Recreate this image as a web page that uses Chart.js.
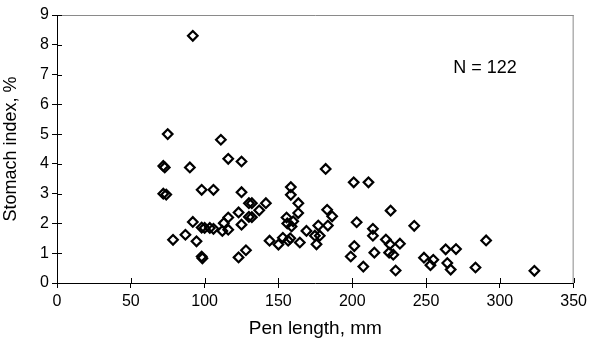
<!DOCTYPE html>
<html>
<head>
  <meta charset="UTF-8">
  <script src="https://cdn.jsdelivr.net/npm/chart.js@4.4.1/dist/chart.umd.min.js"></script>
  <style>
    html, body { margin: 0; padding: 0; background: #fff; }
    #wrap { width: 591px; height: 351px; }
  </style>
</head>
<body>
<div id="wrap"><canvas id="myChart"></canvas></div>
<script>
  // pen length (mm) and stomach index (%)
  const penLength = [
    92, 75, 111, 72, 73, 90, 116, 125, 72, 74, 98, 106, 125, 130, 123, 116, 92, 130,
    98, 100, 103.5, 106, 113, 116, 112, 125, 78.6, 87, 94.5, 98, 98.5, 123, 128,
    132, 141.5, 137, 132, 144, 150, 153, 156.6, 158, 164.5, 158.4, 158.4, 163.5, 163.4,
    155.5, 156, 160, 158.9, 169, 174.7, 178, 175.8, 177, 183, 186.4, 183.5, 182,
    201, 211, 203, 214, 214, 201.4, 199, 207.5, 215, 226, 222.8, 225.5, 232.3, 225,
    227.8, 229.4, 242, 248.6, 254.9, 253, 263.3, 270.3, 264.4, 266.7, 283.5, 290.7, 323.4
  ];
  const stomachIndex = [
    8.3, 5.0, 4.81, 3.93, 3.88, 3.88, 4.17, 4.08, 3.0, 2.97, 3.13, 3.13, 3.05, 2.68, 2.37, 2.2, 2.05, 2.22,
    1.86, 1.85, 1.85, 1.82, 2.01, 1.79, 1.75, 1.96, 1.45, 1.62, 1.4, 0.89, 0.83, 0.86, 1.1,
    2.68, 2.68, 2.44, 2.21, 1.42, 1.29, 1.52, 1.42, 1.5, 1.36, 3.22, 2.96, 2.68, 2.35,
    2.2, 2.0, 2.07, 1.9, 1.75, 1.59, 1.59, 1.3, 1.93, 2.46, 2.24, 1.93, 3.83,
    3.38, 3.38, 2.04, 1.82, 1.59, 1.24, 0.89, 0.55, 1.02, 2.43, 1.46, 1.3, 1.32, 1.02,
    0.95, 0.42, 1.92, 0.85, 0.78, 0.6, 1.13, 1.14, 0.67, 0.45, 0.52, 1.43, 0.41
  ];
  const xTicks = [0, 50, 100, 150, 200, 250, 300, 350];
  const yTicks = [0, 1, 2, 3, 4, 5, 6, 7, 8, 9];
  const noteText = 'N = 122';
  const notePos = [290, 7.22];

  const points = penLength.map(function(x, i) { return { x: x, y: stomachIndex[i] }; });

  // inner half of the crossing tick marks, plot frame and the N label
  const extras = {
    id: 'extras',
    afterDraw: function(chart) {
      const ctx = chart.ctx;
      const a = chart.chartArea;
      const sx = chart.scales.x, sy = chart.scales.y;
      ctx.save();
      ctx.strokeStyle = '#8a8a8a';
      ctx.lineWidth = 1;
      ctx.beginPath();
      ctx.moveTo(a.left, a.top + 0.5);
      ctx.lineTo(a.right, a.top + 0.5);
      ctx.moveTo(a.right - 0.5, a.top);
      ctx.lineTo(a.right - 0.5, a.bottom);
      ctx.stroke();
      ctx.strokeStyle = '#000';
      ctx.beginPath();
      xTicks.forEach(function(v) {
        const px = Math.round(sx.getPixelForValue(v)) + 0.5;
        ctx.moveTo(px, a.bottom);
        ctx.lineTo(px, a.bottom - 5);
      });
      yTicks.forEach(function(v) {
        const py = Math.round(sy.getPixelForValue(v)) + 0.5;
        ctx.moveTo(a.left, py);
        ctx.lineTo(a.left + 5, py);
      });
      ctx.stroke();
      ctx.fillStyle = '#000';
      ctx.font = '18px "Liberation Sans", Arial, sans-serif';
      ctx.textAlign = 'center';
      ctx.textBaseline = 'middle';
      ctx.fillText(noteText, sx.getPixelForValue(notePos[0]), sy.getPixelForValue(notePos[1]));
      ctx.restore();
    }
  };

  const ctx = document.getElementById('myChart').getContext('2d');
  const chart = new Chart(ctx, {
    type: 'scatter',
    data: {
      datasets: [{
        label: 'Stomach index',
        data: points,
        pointStyle: 'rectRot',
        pointRadius: 4.8,
        pointBorderWidth: 2.2,
        borderColor: '#000',
        backgroundColor: 'rgba(0,0,0,0)'
      }]
    },
    options: {
      responsive: true,
      maintainAspectRatio: false,
      animation: false,
      layout: { padding: { top: 15, right: 14, left: 0, bottom: 0 } },
      plugins: { legend: { display: false }, tooltip: { enabled: false } },
      scales: {
        x: {
          min: 0, max: 350,
          afterFit: function(s) { s.height = 68; },
          afterBuildTicks: function(s) { s.ticks = xTicks.map(function(v) { return { value: v }; }); },
          grid: { drawOnChartArea: false, tickLength: 5, color: '#000' },
          border: { color: '#000', width: 1 },
          ticks: { color: '#000', padding: 4, maxRotation: 0, font: { family: '"Liberation Sans", Arial', size: 16 } },
          title: { display: true, text: 'Pen length, mm', color: '#000', padding: { top: 0, bottom: 11 },
                   font: { family: '"Liberation Sans", Arial', size: 19 } }
        },
        y: {
          min: 0, max: 9,
          afterFit: function(s) { s.width = 57; },
          afterBuildTicks: function(s) { s.ticks = yTicks.map(function(v) { return { value: v }; }); },
          grid: { drawOnChartArea: false, tickLength: 5, color: '#000' },
          border: { color: '#000', width: 1 },
          ticks: { color: '#000', padding: 3, font: { family: '"Liberation Sans", Arial', size: 16 } },
          title: { display: true, text: 'Stomach index, %', color: '#000', padding: { top: 0, bottom: 8 },
                   font: { family: '"Liberation Sans", Arial', size: 18 } }
        }
      }
    },
    plugins: [extras]
  });
</script>
</body>
</html>
